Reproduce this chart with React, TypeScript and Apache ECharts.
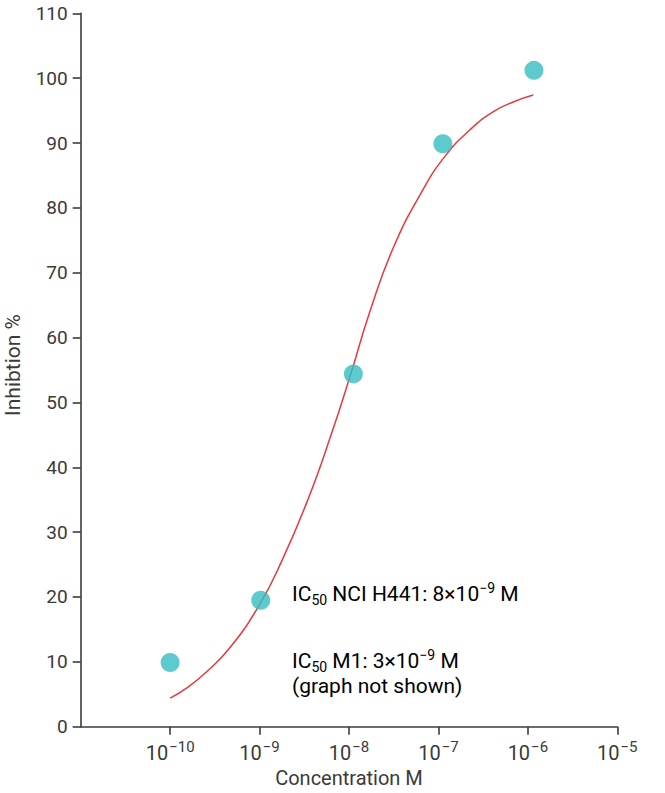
import React, { useEffect, useRef } from "react";
import * as echarts from "echarts";

// Measured points (concentration in M, inhibition %)
const pointConc = [1e-10, 1.03e-9, 1.12e-8, 1.12e-7, 1.17e-6];
const pointInhibition = [9.9, 19.5, 54.4, 89.9, 101.2];

// Fitted curve (log10 concentration, inhibition %)
const curveLogConc = [-10.0, -9.8, -9.59, -9.33, -9.01, -8.75, -8.46, -8.2, -7.98, -7.76, -7.5, -7.19, -6.93, -6.65, -6.39, -6.15, -5.94];
const curveInhibition = [4.4, 6.1, 8.5, 12.2, 18.6, 25.6, 35.0, 45.0, 54.4, 64.3, 74.0, 82.4, 87.9, 92.0, 94.8, 96.4, 97.4];

const xTickValues = [1e-10, 1e-9, 1e-8, 1e-7, 1e-6, 1e-5];
const yTicks = { min: 0, max: 110, interval: 10 };

const xAxisTitle = "Concentration M";
const yAxisTitle = "Inhibtion %";
const noteLines = [
  "{n|IC}{sub|50}{n| NCI H441: 8×10}{sup|−9}{n| M}",
  "{n|IC}{sub|50}{n| M1: 3×10}{sup|−9}{n| M}",
  "{n|(graph not shown)}",
];

const FONT = "Roboto, 'Noto Sans', sans-serif";
const TEXT = "#3a3a3a";
const AXIS = "#3c3c3c";

export default function App() {
  const ref = useRef<HTMLDivElement>(null);
  useEffect(() => {
    document.body.style.margin = "0";
    if (!ref.current) return;
    const chart = echarts.init(ref.current, undefined, { renderer: "svg" });
    const noteRich = {
      n: { fontSize: 21, fontFamily: FONT, color: TEXT, lineHeight: 26 },
      sub: { fontSize: 14, fontFamily: FONT, color: TEXT, lineHeight: 14, verticalAlign: "bottom" },
      sup: { fontSize: 14, fontFamily: FONT, color: TEXT, lineHeight: 14, verticalAlign: "top" },
    };
    chart.setOption({
      animation: false,
      backgroundColor: "#ffffff",
      grid: {
        left: 80.7,
        right: 47.7,
        top: 13.3,
        bottom: 66.3,
        containLabel: false,
        outerBoundsMode: "none",
      },
      xAxis: {
        type: "log",
        logBase: 10,
        min: 1e-11,
        max: 1e-5,
        name: xAxisTitle,
        nameLocation: "middle",
        nameGap: 37,
        nameTextStyle: { fontSize: 20, fontFamily: FONT, color: TEXT },
        axisLine: { show: true, lineStyle: { color: AXIS, width: 1.6 } },
        axisTick: { show: true, length: 8, lineStyle: { color: AXIS, width: 1.6 }, customValues: xTickValues },
        minorTick: { show: false },
        splitLine: { show: false },
        axisLabel: {
          customValues: xTickValues,
          margin: 13,
          formatter: (v: number) => {
            const e = Math.round(Math.log10(v));
            return "{b|10}{s|" + (e < 0 ? "−" + -e : String(e)) + "}";
          },
          rich: {
            b: { fontSize: 20, fontFamily: FONT, color: TEXT, lineHeight: 26 },
            s: { fontSize: 15, fontFamily: FONT, color: TEXT, lineHeight: 15, verticalAlign: "top", padding: [0, 0, 0, 1] },
          },
        },
      },
      yAxis: {
        type: "value",
        min: yTicks.min,
        max: yTicks.max,
        interval: yTicks.interval,
        name: yAxisTitle,
        nameLocation: "middle",
        nameGap: 57,
        nameTextStyle: { fontSize: 21, fontFamily: FONT, color: TEXT, padding: [0, 0, 0, 10] },
        axisLine: { show: true, lineStyle: { color: AXIS, width: 1.6 } },
        axisTick: { show: true, length: 8, lineStyle: { color: AXIS, width: 1.6 } },
        splitLine: { show: false },
        axisLabel: { fontSize: 19, fontFamily: FONT, color: TEXT, margin: 13 },
      },
      series: [
        {
          type: "line",
          smooth: 0.5,
          showSymbol: false,
          symbol: "none",
          lineStyle: { color: "#e8383b", width: 1.5 },
          data: curveLogConc.map((lc, i) => [Math.pow(10, lc), curveInhibition[i]]),
          z: 2,
        },
        {
          type: "scatter",
          symbolSize: 19,
          itemStyle: { color: "#34bec0" },
          data: pointConc.map((c, i) => [c, pointInhibition[i]]),
          z: 3,
        },
      ],
      graphic: [
        { type: "text", left: 292, top: 581, style: { text: noteLines[0], rich: noteRich } },
        { type: "text", left: 292, top: 648, style: { text: noteLines[1], rich: noteRich } },
        { type: "text", left: 292, top: 675, style: { text: noteLines[2], rich: noteRich } },
      ],
    });
    return () => chart.dispose();
  }, []);
  return <div ref={ref} style={{ width: 665, height: 793 }} />;
}
